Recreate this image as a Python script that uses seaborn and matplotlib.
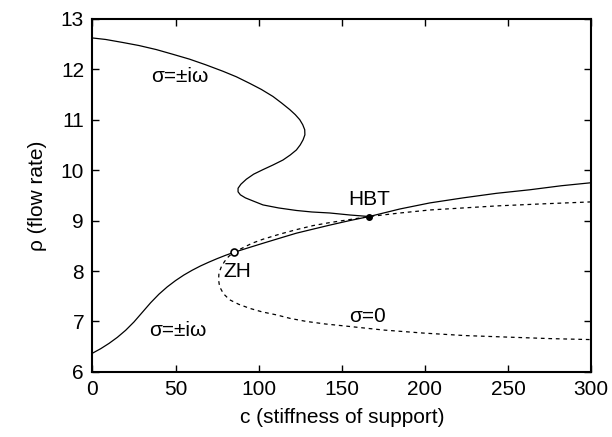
import matplotlib
matplotlib.use("Agg")
import matplotlib.pyplot as plt
import seaborn as sns
import pandas as pd

# Upper solid branch (sigma = +-i omega), from c=0 to HBT
upper_c = [0, 8, 18.3, 28, 38.4, 48, 58.4, 68, 78.5, 86.6, 94.6, 101.6, 108.6, 113.8,
           118.7, 122, 124.7, 126.5, 127.7, 127.8, 126.7, 125, 122.7, 119, 114.6,
           108.5, 102.6, 97, 92.6, 89.3, 87.6, 87.6, 89, 92, 96.5, 102.6, 112,
           122.7, 132, 142.8, 155, 166.5]
upper_rho = [12.62, 12.59, 12.53, 12.47, 12.39, 12.30, 12.20, 12.09, 11.96, 11.85, 11.72,
             11.60, 11.46, 11.33, 11.20, 11.10, 11.00, 10.90, 10.80, 10.70, 10.60, 10.50,
             10.40, 10.30, 10.20, 10.10, 10.01, 9.92, 9.82, 9.72, 9.64, 9.57, 9.51, 9.45,
             9.39, 9.31, 9.25, 9.20, 9.17, 9.15, 9.11, 9.08]

# Lower solid branch (sigma = +-i omega), from c=0 through ZH and HBT to c=300
lower_c = [0, 5, 10, 15, 20, 25, 30, 35, 40, 45, 50, 55, 60, 65, 70, 75, 80, 85.1,
           93.8, 102.6, 112.6, 122.7, 132.7, 142.8, 154.8, 166.5, 185, 203, 223, 243,
           263, 282, 300]
lower_rho = [6.37, 6.46, 6.565, 6.685, 6.825, 6.99, 7.18, 7.37, 7.54, 7.685, 7.81, 7.92,
             8.015, 8.10, 8.175, 8.245, 8.31, 8.37, 8.46, 8.55, 8.65, 8.75, 8.83,
             8.91, 9.00, 9.08, 9.23, 9.35, 9.45, 9.54, 9.61, 9.69, 9.75]

# Dashed branch (sigma = 0)
dash_c = [300, 270, 243, 223, 203, 185, 166.5, 154.8, 142.8, 132.7, 122.7, 112.6,
          102.6, 96, 90.5, 85.1, 82, 79.5, 77.5, 76.1, 75.9, 76.5, 78.8, 82.5, 88,
          94.6, 102, 110.7, 119, 128.7, 140, 154.8, 175, 198.8, 224, 249.4, 275, 300]
dash_rho = [9.37, 9.33, 9.29, 9.25, 9.21, 9.15, 9.08, 9.02, 8.96, 8.90, 8.82, 8.73,
            8.63, 8.55, 8.46, 8.37, 8.29, 8.19, 8.08, 7.96, 7.82, 7.69, 7.55, 7.43, 7.34,
            7.26, 7.19, 7.13, 7.06, 7.00, 6.95, 6.90, 6.83, 6.77, 6.72, 6.69, 6.66, 6.64]

# Special points
zh_c, zh_rho = [85.1], [8.37]
hbt_c, hbt_rho = [166.5], [9.08]

# Labels
labels = ["σ=±iω", "σ=±iω", "σ=0", "HBT", "ZH"]
label_c = [52.4, 51.2, 165.7, 166.3, 87.3]
label_rho = [11.86, 6.83, 7.10, 9.41, 7.99]

x_ticks = [0, 50, 100, 150, 200, 250, 300]
y_ticks = [6, 7, 8, 9, 10, 11, 12, 13]

sns.set_theme(style="ticks")
plt.rcParams["font.family"] = ["Liberation Sans", "DejaVu Sans"]
plt.rcParams["font.size"] = 15

fig = plt.figure(figsize=(6.12, 4.37), dpi=100)
ax = fig.add_axes([0.151, 0.149, 0.815, 0.808])

df_up = pd.DataFrame({"c": upper_c, "rho": upper_rho})
df_lo = pd.DataFrame({"c": lower_c, "rho": lower_rho})
df_da = pd.DataFrame({"c": dash_c, "rho": dash_rho})

sns.lineplot(data=df_up, x="c", y="rho", sort=False, estimator=None, ax=ax,
             color="black", linewidth=0.9)
sns.lineplot(data=df_lo, x="c", y="rho", sort=False, estimator=None, ax=ax,
             color="black", linewidth=0.9)
sns.lineplot(data=df_da, x="c", y="rho", sort=False, estimator=None, ax=ax,
             color="black", linewidth=0.9, dashes=False)
ax.lines[-1].set_linestyle((0, (3, 3)))

ax.plot(zh_c, zh_rho, marker="o", markersize=5, markerfacecolor="white",
        markeredgecolor="black", markeredgewidth=1.2, linestyle="none", zorder=5)
ax.plot(hbt_c, hbt_rho, marker="o", markersize=4, color="black",
        linestyle="none", zorder=5)

for t, cx, cy in zip(labels, label_c, label_rho):
    ax.text(cx, cy, t, ha="center", va="center", fontsize=15, color="black")

ax.set_xlim(0, 300)
ax.set_ylim(6, 13)
ax.set_xticks(x_ticks)
ax.set_yticks(y_ticks)
ax.tick_params(direction="in", top=True, right=True, length=5, width=1,
               labelsize=15, colors="black", pad=6)
for s in ax.spines.values():
    s.set_linewidth(1.5)
    s.set_color("black")
ax.set_xlabel("c (stiffness of support)", fontsize=15, labelpad=6, color="black")
ax.set_ylabel("ρ (flow rate)", fontsize=15, labelpad=10, color="black")

fig.savefig("out.png", dpi=100)
